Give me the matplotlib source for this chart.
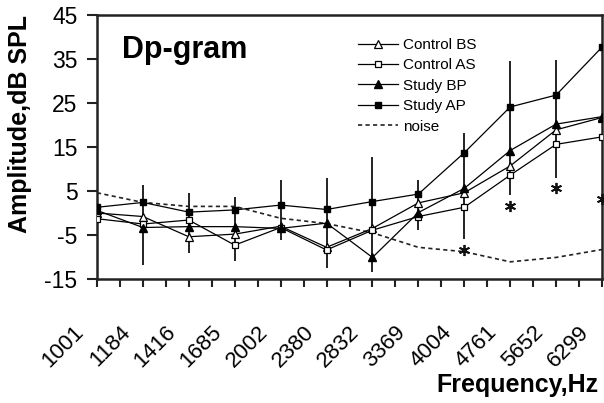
import matplotlib
matplotlib.use('Agg')
import matplotlib.pyplot as plt
import matplotlib.transforms as mtransforms
from matplotlib.font_manager import FontProperties
import numpy as np

# values
freqs = ['1001', '1184', '1416', '1685', '2002', '2380', '2832', '3369', '4004', '4761', '5652', '6299']
control_bs = [0.0, -0.8, -5.4, -4.8, -3.0, -7.8, -3.5, 2.3, 4.6, 10.7, 18.9, 21.7]
control_as = [-1.3, -2.5, -1.6, -7.3, -3.3, -8.4, -3.9, -0.8, 1.3, 8.6, 15.6, 17.3]
study_bp = [0.6, -3.3, -3.1, -3.1, -3.5, -2.3, -10.1, 0.1, 5.6, 14.2, 20.2, 21.9]
study_ap = [1.3, 2.4, 0.2, 0.7, 1.8, 0.8, 2.6, 4.3, 13.7, 24.1, 26.8, 37.7]
noise = [4.6, 2.4, 1.5, 1.5, -1.2, -2.4, -4.5, -7.8, -8.8, -11.1, -10.1, -8.3]

err_low = [np.nan, -11.8, -9.2, -10.9, -6.1, -12.6, -13.3, -3.9, -5.8, 4.1, 7.9, np.nan]
err_high = [np.nan, 6.4, 4.6, 3.7, 7.5, 7.9, 12.7, 7.5, 18.2, 34.5, 34.8, np.nan]

star_freqs = ['4004', '4761', '5652', '6299']
star_vals = [-8.4, 1.6, 5.6, 3.1]

y_ticks = [-15, -5, 5, 15, 25, 35, 45]

bold = 'Liberation Sans'
narrow = FontProperties(family=['Liberation Sans Narrow', 'Liberation Sans'], size=11)

fig = plt.figure(figsize=(6.04, 4.03), dpi=100)
ax = fig.add_axes([97 / 604, 1 - 279 / 403, 505 / 604, 264 / 403])

x = np.arange(len(freqs))

ax.vlines(x, err_low, err_high, color='#222222', linewidth=1.4, zorder=1)

ax.plot(x, control_bs, color='black', linewidth=0.9, marker='^', markersize=5.5,
        markerfacecolor='white', markeredgecolor='black', markeredgewidth=0.9, label='Control BS', zorder=3)
ax.plot(x, control_as, color='black', linewidth=0.9, marker='s', markersize=5,
        markerfacecolor='white', markeredgecolor='black', markeredgewidth=0.9, label='Control AS', zorder=3)
ax.plot(x, study_bp, color='black', linewidth=0.9, marker='^', markersize=5.5,
        markerfacecolor='black', label='Study BP', zorder=3)
ax.plot(x, study_ap, color='black', linewidth=0.9, marker='s', markersize=5,
        markerfacecolor='black', label='Study AP', zorder=3)
ax.plot(x, noise, color='#222222', linewidth=1.2, linestyle=(0, (2.5, 2)), label='noise', zorder=2)

star_x = [freqs.index(f) for f in star_freqs]
ax.plot(star_x, star_vals, linestyle='none', marker=(6, 2, 0), markersize=8,
        markeredgewidth=1.3, color='#111111', zorder=4, clip_on=False)

ax.set_xlim(0, len(freqs) - 1)
ax.set_ylim(-15, 45)
ax.set_yticks(y_ticks)
ax.set_yticklabels([str(v) for v in y_ticks], fontsize=16.5, family=bold)
ax.set_xticks(x)
ax.set_xticks(x[:-1] + 0.5, minor=True)
ax.set_xticklabels(freqs, fontsize=16, family=bold, rotation=45, ha='right', va='center',
                   rotation_mode='anchor')
ax.tick_params(axis='y', direction='out', length=7, width=1.5, pad=7, color='#222222')
ax.tick_params(axis='x', which='both', direction='out', length=6, width=1.5, pad=30, color='#222222')
offset = mtransforms.ScaledTranslation(-16 / 100, 0, fig.dpi_scale_trans)
for lbl in ax.get_xticklabels():
    lbl.set_transform(lbl.get_transform() + offset)

for sp in ax.spines.values():
    sp.set_linewidth(1.8)
    sp.set_color('#222222')

ax.text(0.05, 0.867, 'Dp-gram', transform=ax.transAxes, fontsize=22, fontweight='bold',
        family=bold, ha='left', va='center')

fig.text(20 / 604, 1 - 124 / 403, 'Amplitude,dB SPL', rotation=90, fontsize=18,
         fontweight='bold', family=bold, ha='center', va='center')
fig.text(598 / 604, 1 - 385 / 403, 'Frequency,Hz', fontsize=18, fontweight='bold',
         family=bold, ha='right', va='center')

ax.legend(loc='upper left', bbox_to_anchor=(358 / 604, 1 - 38 / 403), bbox_transform=fig.transFigure,
          frameon=False, prop=narrow, handlelength=2.6, handletextpad=0.35, labelspacing=0.42,
          borderpad=0, borderaxespad=0)

fig.savefig('out.png', dpi=100)
